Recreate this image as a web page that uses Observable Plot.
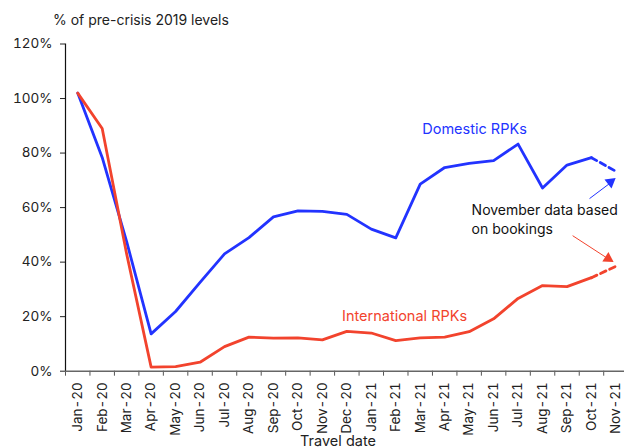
<!DOCTYPE html>
<html><head><meta charset="utf-8">
<script src="https://cdn.jsdelivr.net/npm/d3@7"></script>
<script src="https://cdn.jsdelivr.net/npm/@observablehq/plot@0.6"></script>
<style>
body{margin:0;background:#fff;font-family:Inter,"Liberation Sans",sans-serif}
#title{height:30px;box-sizing:border-box;padding:12px 0 0 53px;font-size:14px;line-height:16px;color:#222}
</style></head><body>
<div id="title">% of pre-crisis 2019 levels</div>
<div id="chart"></div>
<script>
const months = ["Jan-20","Feb-20","Mar-20","Apr-20","May-20","Jun-20","Jul-20","Aug-20","Sep-20","Oct-20","Nov-20","Dec-20",
  "Jan-21","Feb-21","Mar-21","Apr-21","May-21","Jun-21","Jul-21","Aug-21","Sep-21","Oct-21","Nov-21"];
const domestic = [102, 78.4, 47.5, 13.7, 21.9, 32.6, 43, 49, 56.6, 58.8, 58.6, 57.5, 52.1, 48.9, 68.6, 74.7, 76.2, 77.2, 83.3, 67.2, 75.6, 78.3, 73.3];
const international = [102, 89, 43, 1.5, 1.7, 3.3, 9, 12.5, 12.1, 12.2, 11.5, 14.6, 14, 11.2, 12.2, 12.5, 14.5, 19.2, 26.7, 31.4, 31, 34.3, 38.5];
const yTicks = [0, 20, 40, 60, 80, 100, 120];
const lastActual = 21; // Oct-21; Nov-21 based on bookings

const blue = "#2233ff", red = "#f2432d";
const rows = months.map((m, i) => ({i, month: m, dom: domestic[i], intl: international[i]}));
const actual = rows.filter(d => d.i <= lastActual);
const projected = rows.filter(d => d.i >= lastActual);
const boundaries = d3.range(-0.5, months.length - 1, 1);

const chart = Plot.plot({
  width: 624, height: 418,
  marginTop: 13.5, marginBottom: 77.3, marginLeft: 65, marginRight: 0,
  style: {fontFamily: "Inter, 'Liberation Sans', sans-serif", fontSize: "13px", color: "#222", background: "#fff"},
  x: {type: "linear", domain: [-0.5, 22.35]},
  y: {domain: [0, 120]},
  marks: [
    Plot.axisY({ticks: yTicks, tickFormat: d => d + "%", tickSize: 5, tickPadding: 8, fontSize: 13.5, label: null}),
    Plot.axisX({ticks: boundaries, tickFormat: () => "", tickSize: 5, label: null, stroke: "#555"}),
    Plot.axisX({ticks: d3.range(months.length), tickFormat: i => months[i], tickRotate: -90, tickSize: 0, tickPadding: 11, fontSize: 13.5, label: null}),
    Plot.ruleY([0], {stroke: "#666", strokeWidth: 1.5}),
    Plot.ruleX([-0.5], {y1: 0, y2: 120, stroke: "#111", strokeWidth: 1.2}),
    Plot.line(actual, {x: "i", y: "dom", stroke: blue, strokeWidth: 2.8}),
    Plot.line(projected, {x: "i", y: "dom", stroke: blue, strokeWidth: 2.8, strokeDasharray: "6,4"}),
    Plot.line(actual, {x: "i", y: "intl", stroke: red, strokeWidth: 2.8}),
    Plot.line(projected, {x: "i", y: "intl", stroke: red, strokeWidth: 2.8, strokeDasharray: "6,4"}),
    Plot.text(["Domestic RPKs"], {x: 16.22, y: 88.6, fill: blue, fontSize: 14.5, textAnchor: "middle"}),
    Plot.text(["International RPKs"], {x: 13.36, y: 20, fill: red, fontSize: 14.5, textAnchor: "middle"}),
    Plot.text(["November data based\non bookings"], {x: 16.1, y: 56.1, fill: "#111", fontSize: 14, textAnchor: "start", lineHeight: 1.36}),
    Plot.link([0], {x1: 20.92, y1: 63.3, x2: 21.75, y2: 68.9, stroke: blue, strokeWidth: 1}),
    Plot.dot([0], {x: 21.78, y: 69.4, symbol: "triangle", r: 4.2, rotate: 51.6, fill: blue, stroke: "none"}),
    Plot.link([0], {x1: 20.23, y1: 49.7, x2: 21.62, y2: 41.6, stroke: red, strokeWidth: 1}),
    Plot.dot([0], {x: 21.68, y: 41.3, symbol: "triangle", r: 4.2, rotate: 122.7, fill: red, stroke: "none"}),
    Plot.text(["Travel date"], {frameAnchor: "bottom", dx: -7, dy: 75, fontSize: 14.5, fill: "#222"})
  ]
});
document.getElementById("chart").append(chart);
</script>
</body></html>
